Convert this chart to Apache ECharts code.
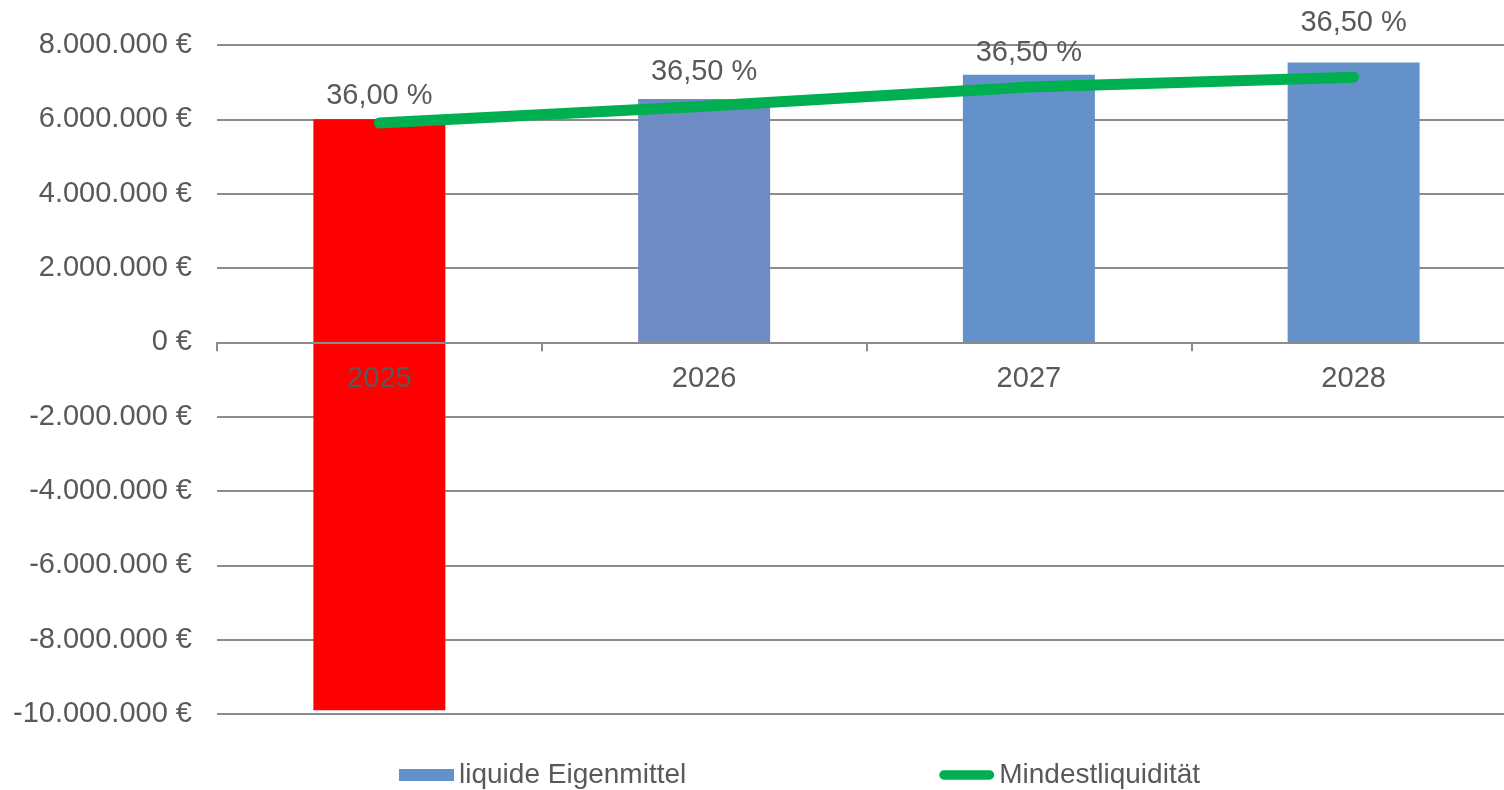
<!DOCTYPE html>
<html>
<head>
<meta charset="utf-8">
<script src="https://cdn.jsdelivr.net/npm/echarts@6/dist/echarts.min.js"></script>
<style>
  html, body { margin: 0; padding: 0; background: #fff; overflow: hidden; }
  #chart { width: 1516px; height: 790px; }
</style>
</head>
<body>
<div id="chart"></div>
<script>
// Daten
var years = ['2025', '2026', '2027', '2028'];
var eigenmittel = [6000000, 6550000, 7200000, 7530000];
var eigenmittelMinus = [-9900000, null, null, null];
var mindestliquiditaet = [5900000, 6350000, 6870000, 7130000];
var quote = [36.00, 36.50, 36.50, 36.50];
var yTicks = [-10000000, -8000000, -6000000, -4000000, -2000000, 0, 2000000, 4000000, 6000000, 8000000];

// Farben / Layout
var barColors = ['#ff0000', '#6e8bc4', '#6591cb', '#6591cb'];
var labelRaise = [0, 3, -2, 16];
var textColor = '#595959';
var gridColor = '#8c8c8c';
var font = 'Liberation Sans, Arial, sans-serif';

var gridTop = 45, gridBottom = 76, chartHeight = 790;

function euro(v) {
    var s = Math.abs(v).toString().replace(/\B(?=(\d{3})+(?!\d))/g, '.');
    return (v < 0 ? '-' : '') + s + ' €';
}

// Abstand der Nulllinie vom unteren Rand des Plotbereichs
var yMin = yTicks[0], yMax = yTicks[yTicks.length - 1];
var plotH = chartHeight - gridTop - gridBottom;
var zeroShift = plotH * (0 - yMin) / (yMax - yMin);

var chart = echarts.init(document.getElementById('chart'));

var option = {
    animation: false,
    textStyle: { fontFamily: font, color: textColor },
    grid: { left: 217, right: 0, top: gridTop, bottom: gridBottom, containLabel: false },
    legend: {
        left: 394,
        top: 756,
        itemWidth: 55,
        itemHeight: 12,
        itemGap: 253,
        data: [
            { name: 'liquide Eigenmittel', icon: 'rect', itemStyle: { color: '#6591cb' } },
            {
                name: 'Mindestliquidität',
                icon: 'path://M5 0H54A5 5 0 0 1 54 10H5A5 5 0 0 1 5 0Z',
                itemStyle: { color: '#00b050' }
            }
        ],
        textStyle: { fontSize: 28, color: textColor, fontFamily: font }
    },
    xAxis: {
        type: 'category',
        data: years,
        z: 3,
        position: 'bottom',
        offset: -zeroShift,
        axisLine: { onZero: false, lineStyle: { color: gridColor, width: 2 } },
        axisTick: { show: true, length: 9, lineStyle: { color: gridColor, width: 2 } },
        axisLabel: { fontSize: 29, color: textColor, margin: 22, fontFamily: font }
    },
    yAxis: {
        type: 'value',
        min: yMin,
        max: yMax,
        interval: 2000000,
        axisLine: { show: false },
        axisTick: { show: false },
        splitLine: { lineStyle: { color: gridColor, width: 2 } },
        axisLabel: {
            fontSize: 29, color: textColor, margin: 25, fontFamily: font,
            formatter: euro
        }
    },
    series: [
        {
            name: 'liquide Eigenmittel',
            type: 'bar',
            stack: 'le',
            barWidth: 132,
            data: eigenmittel.map(function (v, i) {
                return {
                    value: v,
                    itemStyle: { color: barColors[i] },
                    label: { distance: 9 + labelRaise[i] }
                };
            }),
            label: {
                show: true,
                position: 'top',
                fontSize: 29,
                color: textColor,
                fontFamily: font,
                formatter: function (p) {
                    return quote[p.dataIndex].toFixed(2).replace('.', ',') + ' %';
                }
            }
        },
        {
            name: 'negativ',
            type: 'bar',
            stack: 'le',
            barWidth: 132,
            itemStyle: { color: '#ff0000' },
            data: eigenmittelMinus
        },
        {
            name: 'Mindestliquidität',
            type: 'line',
            z: 5,
            data: mindestliquiditaet,
            showSymbol: false,
            symbol: 'none',
            lineStyle: { color: '#00b050', width: 11, cap: 'round' },
            itemStyle: { color: '#00b050' }
        }
    ]
};

chart.setOption(option);
</script>
</body>
</html>
